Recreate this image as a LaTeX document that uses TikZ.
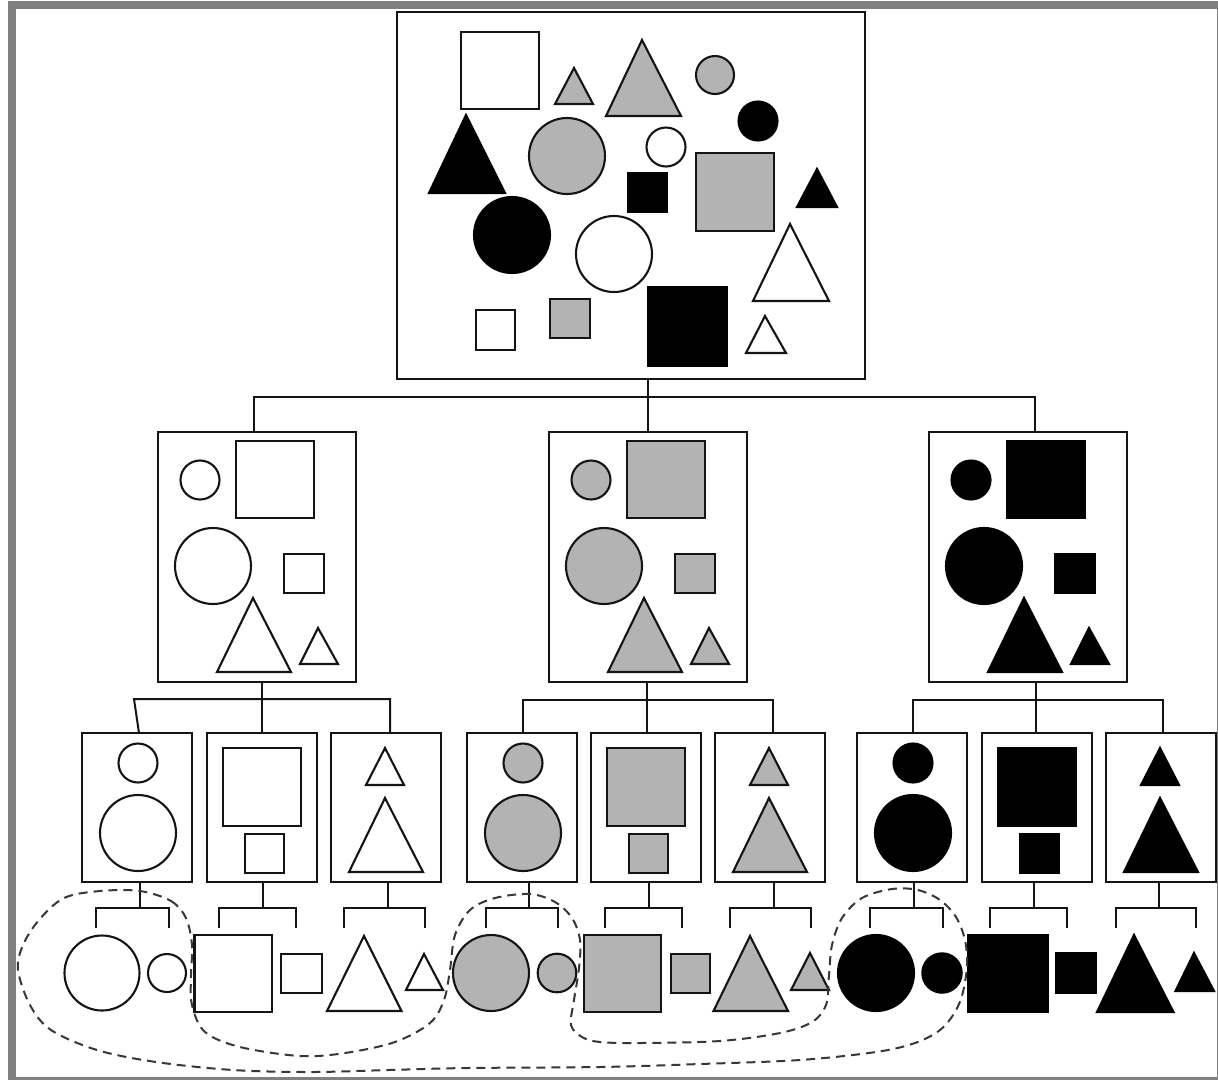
\documentclass[tikz,border=0pt]{standalone}
\usetikzlibrary{calc}
\definecolor{framegray}{RGB}{128,128,128}
\definecolor{shadegray}{RGB}{179,179,179}
\definecolor{inkc}{RGB}{20,20,20}
\tikzset{
  box/.style={draw=inkc, line width=2.2pt, fill=white, inner sep=0pt, outer sep=0pt, anchor=north west, rectangle},
  conn/.style={draw=inkc, line width=2pt},
  wsh/.style={draw=inkc, line width=2.1pt, fill=white},
  gsh/.style={draw=inkc, line width=2.1pt, fill=shadegray},
  bsh/.style={draw=black, line width=2.1pt, fill=black},
  grouping/.style={draw=inkc!85, line width=2pt, dash pattern=on 9pt off 6pt},
}
\newcommand{\Sq}[5]{\draw[#1] (#2,#3) rectangle (#4,#5);}
\newcommand{\Ci}[4]{\draw[#1] (#2,#3) circle[radius=#4pt];}
\newcommand{\Tri}[6]{\draw[#1, line join=miter] (#2,#3) -- (#6,#4) -- (#5,#4) -- cycle;}
\newcommand{\MidSet}[1]{%
 \Ci{#1}{42}{48}{19.5}
 \Sq{#1}{78}{9}{156}{86}
 \Ci{#1}{55}{134}{38}
 \Sq{#1}{126}{122}{166}{161}
 \Tri{#1}{95}{166}{240}{59}{133}
 \Tri{#1}{160}{196}{232}{142}{180}}
\newcommand{\CircSet}[1]{\Ci{#1}{56}{30}{19.5}\Ci{#1}{56}{100}{38}}
\newcommand{\SqSet}[1]{\Sq{#1}{16}{15}{94}{93}\Sq{#1}{38}{101}{77}{140}}
\newcommand{\TriSet}[1]{\Tri{#1}{54}{15}{52}{35}{73}\Tri{#1}{54}{65}{139}{18}{92}}
\begin{document}
\begin{tikzpicture}[x=1pt,y=-1pt]
\useasboundingbox (0,0) rectangle (1218,1080);
\fill[white] (0,0) rectangle (1218,1080);
\fill[framegray] (8,1) rectangle (1218,1080);
\fill[white] (16,9) rectangle (1216.8,1077.3);

% ---------- boxes ----------
\node[box, minimum width=468pt, minimum height=367pt] (top) at (397,12) {};
\node[box, minimum width=198pt, minimum height=250pt] (mL) at (158,432) {};
\node[box, minimum width=198pt, minimum height=250pt] (mM) at (549,432) {};
\node[box, minimum width=198pt, minimum height=250pt] (mR) at (929,432) {};
\foreach \i/\x in {1/82,2/207,3/331,4/467,5/591,6/715,7/857,8/982,9/1106}
  \node[box, minimum width=110pt, minimum height=149pt] (c\i) at (\x,733) {};

% ---------- top box shapes ----------
\Sq{wsh}{461}{32}{539}{109}
\Tri{gsh}{574}{68}{104}{555}{593}
\Tri{gsh}{642}{40}{116}{606}{681}
\Ci{gsh}{715}{75}{19}
\Ci{bsh}{758}{121}{19.5}
\Tri{bsh}{466}{115}{193}{429}{505}
\Ci{gsh}{567}{156}{38}
\Ci{wsh}{666}{147}{19.5}
\Sq{bsh}{628}{173}{667}{212}
\Sq{gsh}{696}{153}{774}{231}
\Tri{bsh}{817}{169}{207}{797}{837}
\Ci{bsh}{512}{235}{38}
\Ci{wsh}{614}{254}{38}
\Tri{wsh}{790}{224}{301}{753}{829}
\Sq{wsh}{476}{310}{515}{350}
\Sq{gsh}{550}{299}{590}{338}
\Sq{bsh}{648}{287}{727}{366}
\Tri{wsh}{765}{316}{353}{746}{786}

% ---------- middle box shapes ----------
\begin{scope}[shift={(158,432)}]\MidSet{wsh}\end{scope}
\begin{scope}[shift={(549,432)}]\MidSet{gsh}\end{scope}
\begin{scope}[shift={(929,432)}]\MidSet{bsh}\end{scope}

% ---------- level 3 shapes ----------
\begin{scope}[shift={(82,733)}]\CircSet{wsh}\end{scope}
\begin{scope}[shift={(207,733)}]\SqSet{wsh}\end{scope}
\begin{scope}[shift={(331,733)}]\TriSet{wsh}\end{scope}
\begin{scope}[shift={(467,733)}]\CircSet{gsh}\end{scope}
\begin{scope}[shift={(591,733)}]\SqSet{gsh}\end{scope}
\begin{scope}[shift={(715,733)}]\TriSet{gsh}\end{scope}
\begin{scope}[shift={(857,733)}]\CircSet{bsh}\end{scope}
\begin{scope}[shift={(982,733)}]\SqSet{bsh}\end{scope}
\begin{scope}[shift={(1106,733)}]\TriSet{bsh}\end{scope}

% ---------- bottom row shapes ----------
\Ci{wsh}{102}{973}{37.5}
\Ci{wsh}{167}{973}{19}
\Sq{wsh}{194.5}{935}{272}{1012}
\Sq{wsh}{281}{954}{322}{993}
\Tri{wsh}{364}{936}{1011}{327}{401.5}
\Tri{wsh}{424}{954}{990}{406}{443}
\Ci{gsh}{491}{973}{38}
\Ci{gsh}{557}{973}{19.3}
\Sq{gsh}{584}{935}{661}{1012}
\Sq{gsh}{671}{954}{710}{993}
\Tri{gsh}{750}{936}{1011}{713.5}{788}
\Tri{gsh}{810}{953}{990}{791}{829}
\Ci{bsh}{876}{973}{38}
\Ci{bsh}{942}{973}{19.7}
\Sq{bsh}{968.5}{935}{1048}{1012}
\Sq{bsh}{1056}{953}{1096}{993}
\Tri{bsh}{1134}{935}{1012}{1097}{1173.5}
\Tri{bsh}{1194}{953}{991}{1175.5}{1214}

% ---------- connectors level 1 ----------
\coordinate (j0) at (648,397);
\draw[conn] (top.south -| j0) -- (j0);
\draw[conn] ($(mL.north west)+(96,0)$) |- (j0) -| ($(mR.north west)+(106,0)$);
\draw[conn] (j0) -- (j0 |- mM.north);

% ---------- connectors level 2 ----------
\coordinate (jL) at (262,699);
\coordinate (hL1) at (134,699);
\coordinate (hL3) at (390,699);
\draw[conn] (mL.south -| jL) -- (jL);
\draw[conn] ($(c1.north west)+(57,0)$) -- (hL1) -- (hL3) -- (hL3 |- c3.north);
\draw[conn] (jL) -- (jL |- c2.north);

\coordinate (jM) at (647,700);
\coordinate (hM1) at (523,700);
\coordinate (hM3) at (773,700);
\draw[conn] (mM.south -| jM) -- (jM);
\draw[conn] (hM1 |- c4.north) -- (hM1) -- (hM3) -- (hM3 |- c6.north);
\draw[conn] (jM) -- (jM |- c5.north);

\coordinate (jR) at (1036,700);
\coordinate (hR1) at (913,700);
\coordinate (hR3) at (1163,700);
\draw[conn] (mR.south -| jR) -- (jR);
\draw[conn] (hR1 |- c7.north) -- (hR1) -- (hR3) -- (hR3 |- c9.north);
\draw[conn] (jR) -- (jR |- c8.north);

% ---------- connectors level 3 (brackets) ----------
\foreach \i/\s/\l/\r in {1/140/96/168.5, 2/263/219/296, 3/388/344/425,
                          4/529/485.5/558, 5/649/605/682, 6/774/730/811,
                          7/914/870/943, 8/1034/990/1067, 9/1159/1115.5/1196}{
  \coordinate (b\i) at (\s,908);
  \coordinate (bl\i) at (\l,928);
  \coordinate (br\i) at (\r,928);
  \draw[conn] (c\i.south -| b\i) -- (b\i);
  \draw[conn] (bl\i) |- (b\i) -| (br\i);
}

% ---------- dashed grouping curve ----------
\draw[grouping] plot[smooth cycle, tension=0.55] coordinates {
 (140,891) (171,901) (186,918) (192,945) (191,975) (192,1005) (205,1032)
 (240,1047) (300,1056) (345,1053) (395,1042) (430,1023) (444,1000)
 (450,970) (455,935) (470,910) (495,898) (530,894) (555,902) (572,918)
 (580,940) (579,968) (574,1000) (571,1025) (582,1037) (600,1042)
 (640,1043) (720,1041) (780,1033) (812,1022) (826,1005) (829,975)
 (832,945) (842,918) (862,898) (892,889) (918,890) (940,900) (956,917)
 (965,940) (967,965) (963,992) (955,1012) (940,1030) (915,1043)
 (876,1052) (800,1060) (700,1064) (600,1067) (467,1068) (389,1070)
 (311,1072) (233,1070) (156,1062) (97,1050) (51,1030) (30,1005)
 (18,970) (23,945) (39,920) (64,898) (100,891)};
\end{tikzpicture}
\end{document}
